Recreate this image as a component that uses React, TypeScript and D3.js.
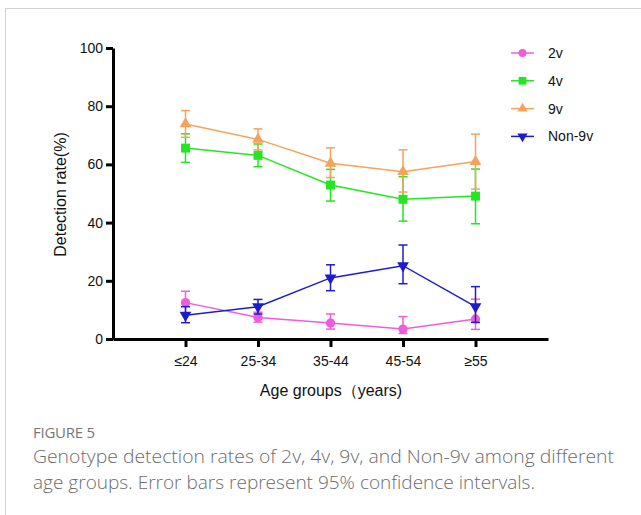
import React, { useEffect, useRef } from 'react';
import * as d3 from 'd3';

const ageGroups = ['≤24', '25-34', '35-44', '45-54', '≥55'];

const seriesNames = ['2v', '4v', '9v', 'Non-9v'];
const seriesColors = ['#ee5ddc', '#22e622', '#f5a35c', '#1c1ccc'];
const seriesMarkers = ['circle', 'square', 'triangle', 'triangleDown'];

// point estimates (%)
const v2 = [12.5, 7.4, 5.5, 3.4, 6.9];
const v4 = [65.6, 63.1, 52.9, 48.0, 49.1];
const v9 = [73.9, 68.6, 60.4, 57.5, 61.0];
const non9 = [8.2, 11.1, 21.0, 25.2, 11.1];

// 95% CI lower / upper
const v2Low = [8.7, 5.8, 3.4, 1.9, 3.3];
const v2High = [16.4, 9.2, 8.6, 7.7, 13.7];
const v4Low = [60.7, 59.2, 47.4, 40.5, 39.6];
const v4High = [70.5, 67.0, 58.3, 55.8, 58.4];
const v9Low = [69.3, 65.0, 55.5, 50.5, 51.5];
const v9High = [78.5, 72.2, 65.7, 65.0, 70.4];
const non9Low = [5.6, 8.6, 16.6, 19.0, 5.7];
const non9High = [11.1, 13.6, 25.5, 32.3, 18.0];

const yTicks = [0, 20, 40, 60, 80, 100];

const App: React.FC = () => {
  const svgRef = useRef<SVGSVGElement>(null);

  useEffect(() => {
    if (!svgRef.current) return;
    const svg = d3.select(svgRef.current);
    svg.selectAll('*').remove();

    const values = [v2, v4, v9, non9];
    const lows = [v2Low, v4Low, v9Low, non9Low];
    const highs = [v2High, v4High, v9High, non9High];

    // frame of the figure panel
    svg.append('path')
      .attr('d', 'M5.5,515 L5.5,8.5 L641,8.5')
      .attr('fill', 'none')
      .attr('stroke', '#d0d0d0')
      .attr('stroke-width', 1);

    const x = d3.scaleLinear().domain([-1, 5]).range([113, 548]);
    const y = d3.scaleLinear().domain([0, 100]).range([339, 48]);

    const font = 'Liberation Sans, Arial, sans-serif';

    // Y axis
    const yAxis = svg.append('g')
      .attr('transform', `translate(${x(-1)},0)`)
      .call(d3.axisLeft(y).tickValues(yTicks).tickSize(7).tickPadding(3).tickSizeOuter(0));
    yAxis.select('.domain').attr('stroke', '#000').attr('stroke-width', 3);
    yAxis.selectAll('.tick line').attr('stroke', '#000').attr('stroke-width', 3);
    yAxis.selectAll('.tick text')
      .attr('font-family', font)
      .attr('font-size', 14)
      .attr('fill', '#111');

    // X axis
    const xAxis = svg.append('g')
      .attr('transform', `translate(0,${y(0)})`)
      .call(
        d3.axisBottom(x)
          .tickValues(d3.range(ageGroups.length))
          .tickFormat((d) => ageGroups[d as number])
          .tickSize(8)
          .tickPadding(9)
          .tickSizeOuter(0)
      );
    xAxis.select('.domain').attr('stroke', '#000').attr('stroke-width', 3);
    xAxis.selectAll('.tick line').attr('stroke', '#000').attr('stroke-width', 3);
    xAxis.selectAll('.tick text')
      .attr('font-family', font)
      .attr('font-size', 14)
      .attr('fill', '#111');

    // axis titles
    svg.append('text')
      .attr('transform', `translate(66,${(y(0) + y(100)) / 2 + 1}) rotate(-90)`)
      .attr('text-anchor', 'middle')
      .attr('font-family', font)
      .attr('font-size', 16)
      .attr('fill', '#111')
      .text('Detection rate(%)');

    svg.append('text')
      .attr('x', 331)
      .attr('y', 396)
      .attr('text-anchor', 'middle')
      .attr('font-family', font)
      .attr('font-size', 16)
      .attr('fill', '#111')
      .text('Age groups（years)');

    const symbolFor = (m: string, size: number) => {
      if (m === 'circle') return d3.symbol(d3.symbolCircle, size * 0.85)();
      if (m === 'square') return d3.symbol(d3.symbolSquare, size)();
      return d3.symbol(d3.symbolTriangle, size * 0.75)();
    };

    const line = d3.line<number>()
      .x((_d, i) => x(i))
      .y((d) => y(d));

    seriesNames.forEach((_name, s) => {
      const color = seriesColors[s];
      const g = svg.append('g');

      // error bars
      ageGroups.forEach((_a, i) => {
        const cx = x(i);
        g.append('line')
          .attr('x1', cx).attr('x2', cx)
          .attr('y1', y(lows[s][i])).attr('y2', y(highs[s][i]))
          .attr('stroke', color).attr('stroke-width', 1.5);
        [lows[s][i], highs[s][i]].forEach((v) => {
          g.append('line')
            .attr('x1', cx - 4.5).attr('x2', cx + 4.5)
            .attr('y1', y(v)).attr('y2', y(v))
            .attr('stroke', color).attr('stroke-width', 1.5);
        });
      });

      g.append('path')
        .attr('d', line(values[s]) || '')
        .attr('fill', 'none')
        .attr('stroke', color)
        .attr('stroke-width', 1.5);

      const m = seriesMarkers[s];
      values[s].forEach((v, i) => {
        g.append('path')
          .attr('d', symbolFor(m, 80))
          .attr('transform', `translate(${x(i)},${y(v)})${m === 'triangleDown' ? ' rotate(180)' : ''}`)
          .attr('fill', color);
      });
    });

    // legend
    const legend = svg.append('g');
    seriesNames.forEach((name, s) => {
      const ly = 53 + s * 27.8;
      const color = seriesColors[s];
      const m = seriesMarkers[s];
      legend.append('line')
        .attr('x1', 511).attr('x2', 534)
        .attr('y1', ly).attr('y2', ly)
        .attr('stroke', color).attr('stroke-width', 1.5);
      legend.append('path')
        .attr('d', symbolFor(m, 60))
        .attr('transform', `translate(522.5,${ly})${m === 'triangleDown' ? ' rotate(180)' : ''}`)
        .attr('fill', color);
      legend.append('text')
        .attr('x', 548)
        .attr('y', ly + 5)
        .attr('font-family', font)
        .attr('font-size', 14)
        .attr('fill', '#111')
        .text(name);
    });

    // caption
    const capFont = 'Open Sans, Noto Sans, sans-serif';
    svg.append('text')
      .attr('x', 33)
      .attr('y', 438)
      .attr('font-family', capFont)
      .attr('font-size', 15)
      .attr('font-weight', 500)
      .attr('fill', '#777')
      .attr('textLength', 62)
      .text('FIGURE 5');
    svg.append('text')
      .attr('x', 33)
      .attr('y', 463)
      .attr('font-family', capFont)
      .attr('font-size', 18.5)
      .attr('font-weight', 300)
      .attr('fill', '#6c6c6c')
      .attr('textLength', 581)
      .attr('lengthAdjust', 'spacingAndGlyphs')
      .text('Genotype detection rates of 2v, 4v, 9v, and Non-9v among different');
    svg.append('text')
      .attr('x', 33)
      .attr('y', 489)
      .attr('font-family', capFont)
      .attr('font-size', 18.5)
      .attr('font-weight', 300)
      .attr('fill', '#6c6c6c')
      .attr('textLength', 502)
      .attr('lengthAdjust', 'spacingAndGlyphs')
      .text('age groups. Error bars represent 95% confidence intervals.');
  }, []);

  return (
    <svg
      ref={svgRef}
      width={641}
      height={515}
      style={{ position: 'absolute', left: 0, top: 0, background: '#fff', display: 'block' }}
    />
  );
};

export default App;
